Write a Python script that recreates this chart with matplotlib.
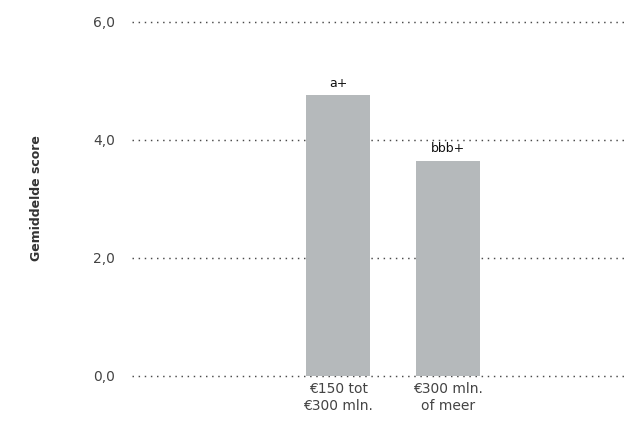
import matplotlib
matplotlib.use("Agg")
import matplotlib.pyplot as plt

categories = ["€150 tot\n€300 mln.", "€300 mln.\nof meer"]
scores = [4.75, 3.64]
ratings = ["a+", "bbb+"]
yticks = [0, 2, 4, 6]
ytick_labels = ["0,0", "2,0", "4,0", "6,0"]

plt.rcParams["font.family"] = ["DejaVu Sans"]

fig = plt.figure(figsize=(6.27, 4.23), dpi=100)
ax = fig.add_axes([132 / 627, 1 - 375.5 / 423, 1 - 132 / 627, (375.5 - 21.7) / 423])

x = list(range(len(categories)))
bars = ax.bar(x, scores, width=0.58, color="#b5b9bb", zorder=3)
for b, r in zip(bars, ratings):
    ax.text(b.get_x() + b.get_width() / 2, b.get_height() + 0.1, r,
            ha="center", va="bottom", fontsize=9, color="#111111")

ax.set_ylim(0, 6)
ax.set_xlim(-1.87, 2.62)
ax.set_yticks(yticks)
ax.set_yticklabels(ytick_labels)
ax.set_xticks(x)
ax.set_xticklabels(categories)

for y in yticks:
    ax.axhline(y, color="#4a4a4a", linestyle=(0, (1, 3.2)), linewidth=1.05,
               zorder=1, clip_on=False)

for s in ax.spines.values():
    s.set_visible(False)
ax.tick_params(axis="both", length=0, labelsize=10, colors="#444444")
ax.tick_params(axis="y", pad=12)
ax.tick_params(axis="x", pad=5)
for lab in ax.get_xticklabels():
    lab.set_linespacing(1.2)

fig.text(37 / 627, 1 - 198 / 423, "Gemiddelde score", rotation=90,
         ha="center", va="center", fontsize=9, fontweight="bold", color="#333333")

fig.savefig("out.png", dpi=100)
